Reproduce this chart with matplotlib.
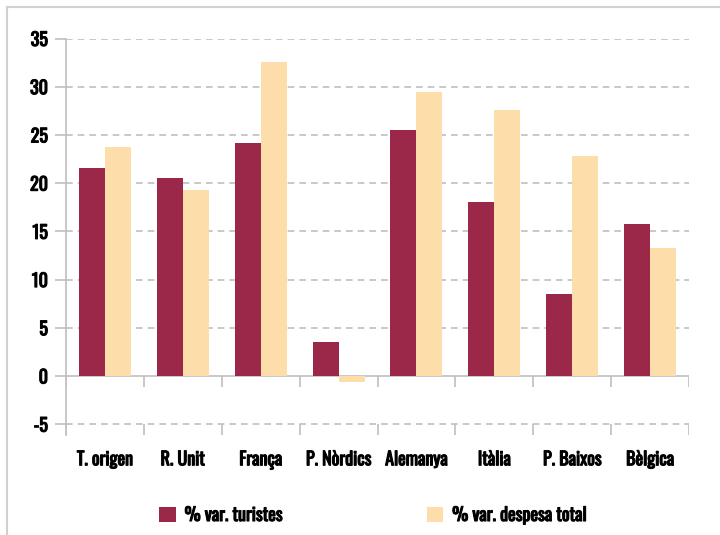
import matplotlib
matplotlib.use("Agg")
import matplotlib.pyplot as plt
import matplotlib.patheffects as pe
from matplotlib.lines import Line2D
import numpy as np

categories = ["T. origen", "R. Unit", "França", "P. Nòrdics", "Alemanya", "Itàlia", "P. Baixos", "Bèlgica"]
turistes = [21.6, 20.5, 24.2, 3.5, 25.5, 18.0, 8.5, 15.8]
despesa = [23.7, 19.3, 32.6, -0.6, 29.5, 27.6, 22.8, 13.3]
series_labels = ["% var. turistes", "% var. despesa total"]
yticks = [-5, 0, 5, 10, 15, 20, 25, 30, 35]

plt.rcParams['font.family'] = ['Oswald', 'DejaVu Sans']
plt.rcParams['font.weight'] = 'bold'

c1 = "#9B2749"
c2 = "#FDDEAB"
grid_c = "#BFBFBF"
FS = 13
bold_fx = [pe.withStroke(linewidth=0.8, foreground="black")]

fig = plt.figure(figsize=(7.2, 5.35), dpi=100)
W, H = 720, 535
ax = fig.add_axes([66 / W, 1 - 435 / H, (689 - 66) / W, (435 - 38.5) / H])

x = np.arange(len(categories))
bw = 1 / 3
ax.bar(x - bw / 2, turistes, bw, color=c1, label=series_labels[0], zorder=3)
ax.bar(x + bw / 2, despesa, bw, color=c2, label=series_labels[1], zorder=3)

ymin = -6.12
ax.set_ylim(ymin, 35)
ax.set_xlim(-0.5, len(categories) - 0.5)

for v in yticks:
    if v == 0:
        ax.axhline(0, color=grid_c, lw=1.2, zorder=2)
    else:
        ax.axhline(v, color=grid_c, lw=1.2, ls=(0, (4, 3)), zorder=1)

bounds = np.arange(len(categories) + 1) - 0.5
ax.vlines(bounds, -1.14, 0, color=grid_c, lw=1.2, zorder=2)
ax.vlines(bounds, ymin, -5, color=grid_c, lw=1.2, zorder=2)

for s in ["top", "right", "bottom"]:
    ax.spines[s].set_visible(False)
ax.spines["left"].set_color(grid_c)
ax.spines["left"].set_linewidth(1.2)

ax.set_yticks(yticks)
ax.set_yticklabels([str(v) for v in yticks])
ax.tick_params(axis="y", length=8, width=1.2, color=grid_c, pad=5, labelsize=FS)
ax.set_xticks(x)
ax.set_xticklabels(categories)
ax.tick_params(axis="x", length=0, pad=11, labelsize=FS)
for lab in ax.get_xticklabels() + ax.get_yticklabels():
    lab.set_path_effects(bold_fx)

leg = fig.legend(loc="center", bbox_to_anchor=(373 / W, 1 - 515 / H), ncol=2,
                 frameon=False, fontsize=FS, handlelength=0.9, handleheight=0.9,
                 columnspacing=8.0, handletextpad=0.5)
for t in leg.get_texts():
    t.set_path_effects(bold_fx)

# outer frame
fig.add_artist(Line2D([7 / W, 7 / W], [0, 1 - 7 / H], color="#D0D0D0", lw=1.5, transform=fig.transFigure))
fig.add_artist(Line2D([7 / W, 1], [1 - 7 / H, 1 - 7 / H], color="#D0D0D0", lw=1.5, transform=fig.transFigure))

fig.savefig("out.png", dpi=100)
